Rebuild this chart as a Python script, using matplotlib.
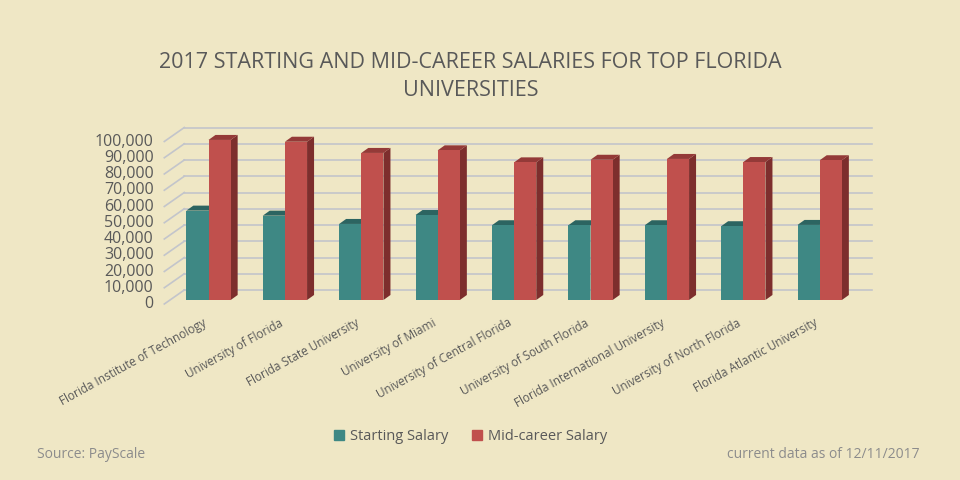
import numpy as np
import matplotlib
matplotlib.use("Agg")
import matplotlib.pyplot as plt
from matplotlib.patches import Polygon
from matplotlib.lines import Line2D

# values
schools = ["Florida Institute of Technology", "University of Florida",
           "Florida State University", "University of Miami",
           "University of Central Florida", "University of South Florida",
           "Florida International University", "University of North Florida",
           "Florida Atlantic University"]
starting = [55000, 51900, 46800, 52300, 46000, 46000, 46000, 45400, 46200]
midcareer = [98500, 97400, 90500, 92100, 84700, 86300, 86800, 84900, 86000]
yticks = np.arange(0, 100001, 10000)

bg = "#EFE7C5"
teal = ["#3E8884", "#2C6461", "#336F6C"]   # front, top, side
red = ["#C0504D", "#943A38", "#7D2E2D"]
grid_col = "#C3C5CB"
txt = "#595959"

plt.rcParams["font.family"] = ["Open Sans", "DejaVu Sans"]

fig = plt.figure(figsize=(9.6, 4.8), dpi=100, facecolor=bg)
ax = fig.add_axes([170.3 / 960, 0.375, 687.6 / 960, 178.75 / 480])
ax.set_facecolor("none")
ax.set_xlim(-0.5, len(schools) - 0.5)
ax.set_ylim(0, 110000)
for s in ax.spines.values():
    s.set_visible(False)
ax.set_xticks([])
ax.set_yticks([])


def depth(px, py):
    # pixel offset -> data offset
    p0 = ax.transData.transform((0, 0))
    return ax.transData.inverted().transform(p0 + np.array([px, py]))


bdx, bdy = depth(14, 10)     # back wall
fdx, fdy = depth(-6, -4)     # front edge (axis labels)
sdx, sdy = depth(7, 5)       # bar depth

x0, x1 = ax.get_xlim()
for v in yticks:
    ax.add_line(Line2D([x0 + bdx, x1 + bdx], [v + bdy, v + bdy], color=grid_col,
                       lw=1.2, clip_on=False, zorder=1))
    ax.add_line(Line2D([x0 + fdx, x0 + bdx], [v + fdy, v + bdy], color=grid_col,
                       lw=1.2, clip_on=False, zorder=1))
    ax.text(x0 + fdx - 0.14, v + fdy, f"{v:,}", ha="right", va="center",
            fontsize=11.5, color=txt)

x = np.arange(len(schools))
w = 0.29


def bar3d(xl, h, cols):
    ax.bar(xl, h, w, align="edge", color=cols[0], edgecolor="none", zorder=3)
    xr = xl + w
    side = [(xr, 0), (xr + sdx, sdy), (xr + sdx, h + sdy), (xr, h)]
    top = [(xl, h), (xr, h), (xr + sdx, h + sdy), (xl + sdx, h + sdy)]
    ax.add_patch(Polygon(side, closed=True, fc=cols[2], ec="none", zorder=2,
                         clip_on=False))
    ax.add_patch(Polygon(top, closed=True, fc=cols[1], ec="none", zorder=2,
                         clip_on=False))


for i in range(len(schools)):
    bar3d(x[i] - w, starting[i], teal)
    bar3d(x[i], midcareer[i], red)

for i, name in enumerate(schools):
    ax.text(x[i] - 0.08, -10000, name, rotation=29, rotation_mode="anchor",
            ha="right", va="top", fontsize=8.5, color=txt)

fig.text(0.49, 0.84, "2017 STARTING AND MID-CAREER SALARIES FOR TOP FLORIDA\nUNIVERSITIES",
         ha="center", va="center", fontsize=15.5, color=txt, linespacing=1.45)

handles = [plt.Rectangle((0, 0), 1, 1, color=teal[0]),
           plt.Rectangle((0, 0), 1, 1, color=red[0])]
fig.legend(handles, ["Starting Salary", "Mid-career Salary"], loc="center",
           bbox_to_anchor=(0.49, 0.09), ncol=2, frameon=False, fontsize=10.5,
           handlelength=0.7, handleheight=0.7, handletextpad=0.4,
           columnspacing=1.6, labelcolor=txt)

fig.text(37 / 960, 1 - 455 / 480, "Source: PayScale", ha="left", va="center",
         fontsize=10, color="#8C8C8C")
fig.text(920 / 960, 1 - 455 / 480, "current data as of 12/11/2017", ha="right",
         va="center", fontsize=10, color="#8C8C8C")

fig.savefig("out.png", dpi=100, facecolor=bg)
